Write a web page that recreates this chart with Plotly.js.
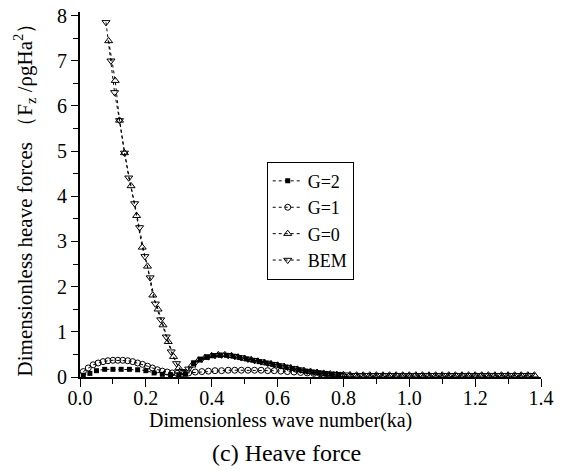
<!DOCTYPE html>
<html>
<head>
<meta charset="utf-8">
<script src="https://cdn.plot.ly/plotly-3.0.1.min.js"></script>
<style>html,body{margin:0;padding:0;background:#fff;}#chart{width:571px;height:470px;}</style>
</head>
<body>
<div id="chart"></div>
<script>
// Dimensionless wave number (ka) and dimensionless heave force values
const bemKa = [0.079, 0.094, 0.105, 0.12, 0.135, 0.148, 0.166, 0.181, 0.197, 0.213, 0.229, 0.245, 0.262, 0.277, 0.293, 0.31,
  0.33, 0.35, 0.37, 0.39, 0.41, 0.43, 0.45, 0.47, 0.49, 0.51, 0.53, 0.55, 0.57, 0.59, 0.61, 0.63, 0.65, 0.67, 0.69, 0.71,
  0.73, 0.75, 0.77, 0.79, 0.81, 0.83, 0.85, 0.87, 0.89, 0.91, 0.93, 0.95, 0.97, 0.99, 1.01, 1.03, 1.05, 1.07, 1.09, 1.11,
  1.13, 1.15, 1.17, 1.19, 1.21, 1.23, 1.25, 1.27, 1.29, 1.31, 1.33, 1.35, 1.37];
const bemF = [7.85, 7.0, 6.3, 5.68, 4.96, 4.41, 3.84, 3.31, 2.67, 2.2, 1.62, 1.27, 0.89, 0.56, 0.3, 0.12,
  0.18, 0.32, 0.40, 0.45, 0.48, 0.49, 0.48, 0.46, 0.43, 0.40, 0.37, 0.34, 0.31, 0.28, 0.25, 0.22, 0.19, 0.16, 0.13, 0.11,
  0.09, 0.07, 0.06, 0.05, 0.05, 0.04, 0.04, 0.04, 0.04, 0.04, 0.04, 0.04, 0.04, 0.04, 0.04, 0.04, 0.04, 0.04, 0.04, 0.04,
  0.04, 0.04, 0.04, 0.04, 0.04, 0.04, 0.04, 0.04, 0.04, 0.04, 0.04, 0.04, 0.04];

const g0Ka = [0.087, 0.107, 0.12, 0.135, 0.155, 0.172, 0.189, 0.205, 0.221, 0.237, 0.252, 0.268, 0.284, 0.30, 0.316,
  0.34, 0.36, 0.38, 0.40, 0.42, 0.44, 0.46, 0.48, 0.50, 0.52, 0.54, 0.56, 0.58, 0.60, 0.62, 0.64, 0.66, 0.68, 0.70, 0.72,
  0.74, 0.76, 0.78, 0.80, 0.82, 0.84, 0.86, 0.88, 0.90, 0.92, 0.94, 0.96, 0.98, 1.00, 1.02, 1.04, 1.06, 1.08, 1.10, 1.12,
  1.14, 1.16, 1.18, 1.20, 1.22, 1.24, 1.26, 1.28, 1.30, 1.32, 1.34, 1.36, 1.38];
const g0F = [7.44, 6.56, 5.68, 4.96, 4.23, 3.57, 2.87, 2.45, 1.81, 1.5, 1.15, 0.78, 0.45, 0.2, 0.1,
  0.26, 0.37, 0.43, 0.47, 0.49, 0.49, 0.47, 0.44, 0.41, 0.38, 0.35, 0.32, 0.29, 0.26, 0.23, 0.20, 0.17, 0.14, 0.12, 0.10,
  0.08, 0.065, 0.055, 0.05, 0.045, 0.04, 0.04, 0.04, 0.04, 0.04, 0.04, 0.04, 0.04, 0.04, 0.04, 0.04, 0.04, 0.04, 0.04, 0.04,
  0.04, 0.04, 0.04, 0.04, 0.04, 0.04, 0.04, 0.04, 0.04, 0.04, 0.04, 0.04, 0.04];

const g1Ka = [0.01, 0.025, 0.04, 0.055, 0.07, 0.085, 0.10, 0.115, 0.13, 0.145, 0.16, 0.175, 0.19, 0.205, 0.22, 0.235, 0.25,
  0.265, 0.28, 0.295, 0.31, 0.33, 0.35, 0.37, 0.39, 0.41, 0.43, 0.45, 0.47, 0.49, 0.51, 0.53, 0.55, 0.57, 0.59, 0.61, 0.63,
  0.65, 0.67, 0.69, 0.71, 0.73, 0.75, 0.77, 0.79];
const g1F = [0.12, 0.2, 0.27, 0.31, 0.34, 0.36, 0.37, 0.37, 0.37, 0.36, 0.34, 0.31, 0.28, 0.24, 0.2, 0.16, 0.13,
  0.11, 0.09, 0.08, 0.08, 0.09, 0.11, 0.12, 0.13, 0.14, 0.14, 0.15, 0.15, 0.15, 0.15, 0.15, 0.15, 0.14, 0.14, 0.13, 0.12,
  0.11, 0.10, 0.09, 0.08, 0.07, 0.06, 0.05, 0.04];

const g2Ka = [0.01, 0.03, 0.05, 0.075, 0.10, 0.125, 0.15, 0.175, 0.20, 0.225, 0.25, 0.275, 0.30, 0.32,
  0.345, 0.365, 0.385, 0.405, 0.425, 0.445, 0.465, 0.485, 0.505, 0.525, 0.545, 0.565, 0.585, 0.605, 0.625, 0.645,
  0.665, 0.685, 0.705, 0.725, 0.745, 0.765, 0.785];
const g2F = [0.04, 0.08, 0.14, 0.17, 0.17, 0.17, 0.17, 0.16, 0.14, 0.09, 0.06, 0.05, 0.05, 0.06,
  0.30, 0.39, 0.44, 0.47, 0.48, 0.48, 0.46, 0.43, 0.40, 0.37, 0.34, 0.31, 0.28, 0.25, 0.22, 0.19,
  0.16, 0.13, 0.11, 0.09, 0.07, 0.06, 0.05];

const seriesNames = ['G=2', 'G=1', 'G=0', 'BEM'];
const xTitle = 'Dimensionless wave number(ka)';
const yTitle = 'Dimensionless heave forces （F<sub>z</sub> /ρgHa<sup>2</sup>）';
const caption = '(c) Heave force';

const serif = 'Liberation Serif';
const lineStyle = {color: '#000', width: 1, dash: 'dot'};

const traces = [
  {x: g2Ka, y: g2F, name: seriesNames[0], mode: 'lines+markers', line: lineStyle,
   marker: {symbol: 'square', size: 5, color: '#000'}},
  {x: g1Ka, y: g1F, name: seriesNames[1], mode: 'lines+markers', line: lineStyle,
   marker: {symbol: 'circle-open', size: 6, color: '#000', line: {width: 1}}},
  {x: g0Ka, y: g0F, name: seriesNames[2], mode: 'lines+markers', line: lineStyle,
   marker: {symbol: 'triangle-up-open', size: 7, color: '#000', line: {width: 1}}},
  {x: bemKa, y: bemF, name: seriesNames[3], mode: 'lines+markers', line: lineStyle,
   marker: {symbol: 'triangle-down-open', size: 7, color: '#000', line: {width: 1}}}
];

const layout = {
  width: 571, height: 470,
  margin: {l: 80, r: 30, t: 12, b: 93},
  paper_bgcolor: '#fff', plot_bgcolor: '#fff',
  font: {family: serif, size: 18, color: '#000'},
  showlegend: true,
  legend: {x: 0.405, y: 0.59, xanchor: 'left', yanchor: 'top', bgcolor: '#fff',
           bordercolor: '#000', borderwidth: 1, font: {family: serif, size: 18, color: '#000'},
           tracegroupgap: 0, itemwidth: 30},
  xaxis: {
    range: [0, 1.4], dtick: 0.2, tick0: 0, tickformat: '.1f',
    showgrid: false, zeroline: false, showline: true, linecolor: '#000', linewidth: 2,
    ticks: 'outside', ticklen: 8, tickwidth: 1, tickcolor: '#000',
    minor: {dtick: 0.1, ticks: 'outside', ticklen: 5, tickcolor: '#000', tickwidth: 1, showgrid: false},
    tickfont: {family: serif, size: 20}, ticklabelstandoff: -6
  },
  yaxis: {
    range: [0, 8.08], dtick: 1, tick0: 0,
    showgrid: false, zeroline: false, showline: true, linecolor: '#000', linewidth: 2,
    ticks: 'outside', ticklen: 7, tickwidth: 1, tickcolor: '#000',
    minor: {dtick: 0.5, ticks: 'outside', ticklen: 5, tickcolor: '#000', tickwidth: 1, showgrid: false},
    tickfont: {family: serif, size: 20},
    title: {text: yTitle, font: {family: serif, size: 21}, standoff: 19}
  },
  annotations: [{
    text: xTitle, xref: 'paper', yref: 'paper', x: 0.434, y: -0.118,
    xanchor: 'center', yanchor: 'middle', showarrow: false,
    font: {family: serif, size: 20, color: '#000'}
  }, {
    text: caption, xref: 'paper', yref: 'paper', x: 0.447, y: -0.208,
    xanchor: 'center', yanchor: 'middle', showarrow: false,
    font: {family: serif, size: 24, color: '#000'}
  }]
};

Plotly.newPlot('chart', traces, layout, {displayModeBar: false, staticPlot: true});
</script>
</body>
</html>
